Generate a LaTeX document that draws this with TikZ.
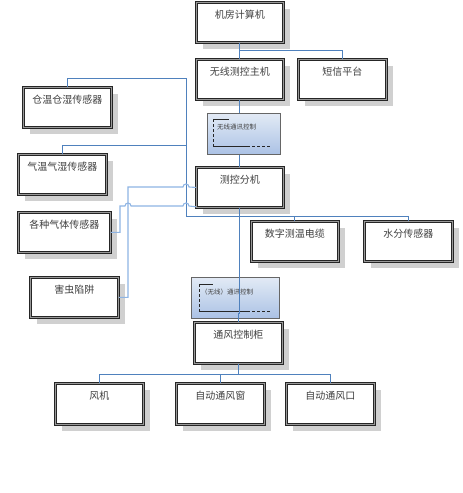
\documentclass[tikz,border=0pt]{standalone}
\usepackage{fontspec}
\setmainfont{Noto Sans CJK SC}
\usetikzlibrary{shadows}
\definecolor{conn}{HTML}{4F81BD}
\definecolor{connl}{HTML}{8EB4E3}
\definecolor{shadowc}{HTML}{D0D0D0}
\definecolor{txt}{HTML}{404040}
\definecolor{btop}{HTML}{E2EAF5}
\definecolor{bbot}{HTML}{ABC2E5}
\begin{document}
\begin{tikzpicture}[x=1pt,y=-1pt,
  box/.style={draw=black!85, double=black!40, double distance=0.7pt, line width=0.8pt,
    fill=white, minimum width=87pt, minimum height=40pt, anchor=north west, inner sep=0pt,
    general shadow={fill=shadowc, shadow xshift=7pt, shadow yshift=-7pt},
    label distance=0pt},
  boxtext/.style={anchor=north, yshift=-5pt, text=txt, font=\fontsize{10}{12}\selectfont, inner sep=3pt},
  vcc/.style={draw=black!60, line width=0.8pt, top color=btop, bottom color=bbot,
    minimum height=41pt, anchor=north west, inner sep=0pt},
  smalltxt/.style={text=txt, font=\fontsize{6.5}{8}\selectfont, inner sep=0pt, anchor=west},
  conn/.style={draw=conn, line width=0.9pt},
  connl/.style={draw=connl, line width=1.1pt},
  lmark/.style={draw=black!85, line width=0.9pt},
  lmarkd/.style={draw=black!85, line width=0.9pt, dash pattern=on 3pt off 2pt}
]
\useasboundingbox (0,0) rectangle (463,493);

% boxes
\node[box, label={[boxtext]north:机房计算机}] (pc) at (196,2) {};
\node[box, label={[boxtext]north:无线测控主机}] (host) at (196,59) {};
\node[box, minimum width=88pt, label={[boxtext]north:短信平台}] (sms) at (298,59) {};
\node[box, minimum width=88pt, label={[boxtext]north:仓温仓湿传感器}] (cang) at (23,87) {};
\node[box, minimum width=88pt, label={[boxtext]north:气温气湿传感器}] (qiwen) at (18,154) {};
\node[box, label={[boxtext]north:测控分机}] (sub) at (196,167) {};
\node[box, minimum width=92pt, label={[boxtext]north:各种气体传感器}] (gas) at (18,212) {};
\node[box, label={[boxtext]north:数字测温电缆}] (cable) at (251,221) {};
\node[box, minimum width=88pt, label={[boxtext]north:水分传感器}] (water) at (364,221) {};
\node[box, minimum width=88pt, label={[boxtext]north:害虫陷阱}] (pest) at (30,277) {};
\node[box, minimum width=88pt, minimum height=41pt, label={[boxtext]north:通风控制柜}] (vent) at (194,322) {};
\node[box, minimum width=88pt, minimum height=41pt, label={[boxtext]north:风机}] (fan) at (55,383) {};
\node[box, minimum width=88pt, minimum height=41pt, label={[boxtext]north:自动通风窗}] (win) at (176,383) {};
\node[box, minimum width=88pt, minimum height=41pt, label={[boxtext]north:自动通风口}] (port) at (286,383) {};

% blue control boxes
\node[vcc, minimum width=73pt] (vc1) at (207,113) {};
\draw[lmark] ([shift={(6,6)}]vc1.north west) -- ([shift={(22,6)}]vc1.north west);
\draw[lmarkd] ([shift={(6,6)}]vc1.north west) -- ([shift={(6,33)}]vc1.north west);
\draw[lmark] ([shift={(6,33)}]vc1.north west) -- ([shift={(40,33)}]vc1.north west);
\draw[lmarkd] ([shift={(40,33)}]vc1.north west) -- ([shift={(64,33)}]vc1.north west);
\node[smalltxt] (vc1t) at ([shift={(10,14)}]vc1.north west) {无线通讯控制};

\node[vcc, minimum width=88pt] (vc2) at (191,277) {};
\draw[lmark] ([shift={(8,7)}]vc2.north west) -- ([shift={(22,7)}]vc2.north west);
\draw[lmarkd] ([shift={(8,7)}]vc2.north west) -- ([shift={(8,34)}]vc2.north west);
\draw[lmark] ([shift={(8,34)}]vc2.north west) -- ([shift={(56,34)}]vc2.north west);
\draw[lmarkd] ([shift={(56,34)}]vc2.north west) -- ([shift={(79,34)}]vc2.north west);
\node[smalltxt] (vc2t) at ([shift={(10,15)}]vc2.north west) {（无线）通讯控制};

% connectors
\coordinate (jA) at (186,78);
\coordinate (jB) at (186,216);
\draw[conn] (pc.south) -- (host.north);
\draw[conn] (pc.south) -- ++(0,8) -| (sms.north);
\draw[conn] (host.south) -- (host.south |- vc1.north);
\draw[conn] (sub.north |- vc1.south) -- (sub.north);
\draw[conn] (cang.north) |- (jA) -- (jB) -| (water.north);
\draw[conn] (jB) -| (cable.north);
\draw[conn] (qiwen.north) -- ++(0,-9) -| (jA);
\draw[conn] (sub.south) -- ++(0,106) -| (vent.north);
\draw[conn] (vent.south) -- ++(0,11) -| (fan.north);
\draw[conn] (vent.south) -- ++(0,11) -| (port.north);
\draw[conn] (vent.south) -- ++(0,11) -| (win.north);
\draw[connl] (pest.east) -| (128,187) -- (183,187) arc[start angle=180, end angle=360, radius=3] -- (sub.west);
\draw[connl] (gas.east) -| (120,206) -- (125,206) arc[start angle=180, end angle=360, radius=3]
  -- (183,206) arc[start angle=180, end angle=360, radius=3] -- ([yshift=1pt]sub.south west);
\end{tikzpicture}
\end{document}
